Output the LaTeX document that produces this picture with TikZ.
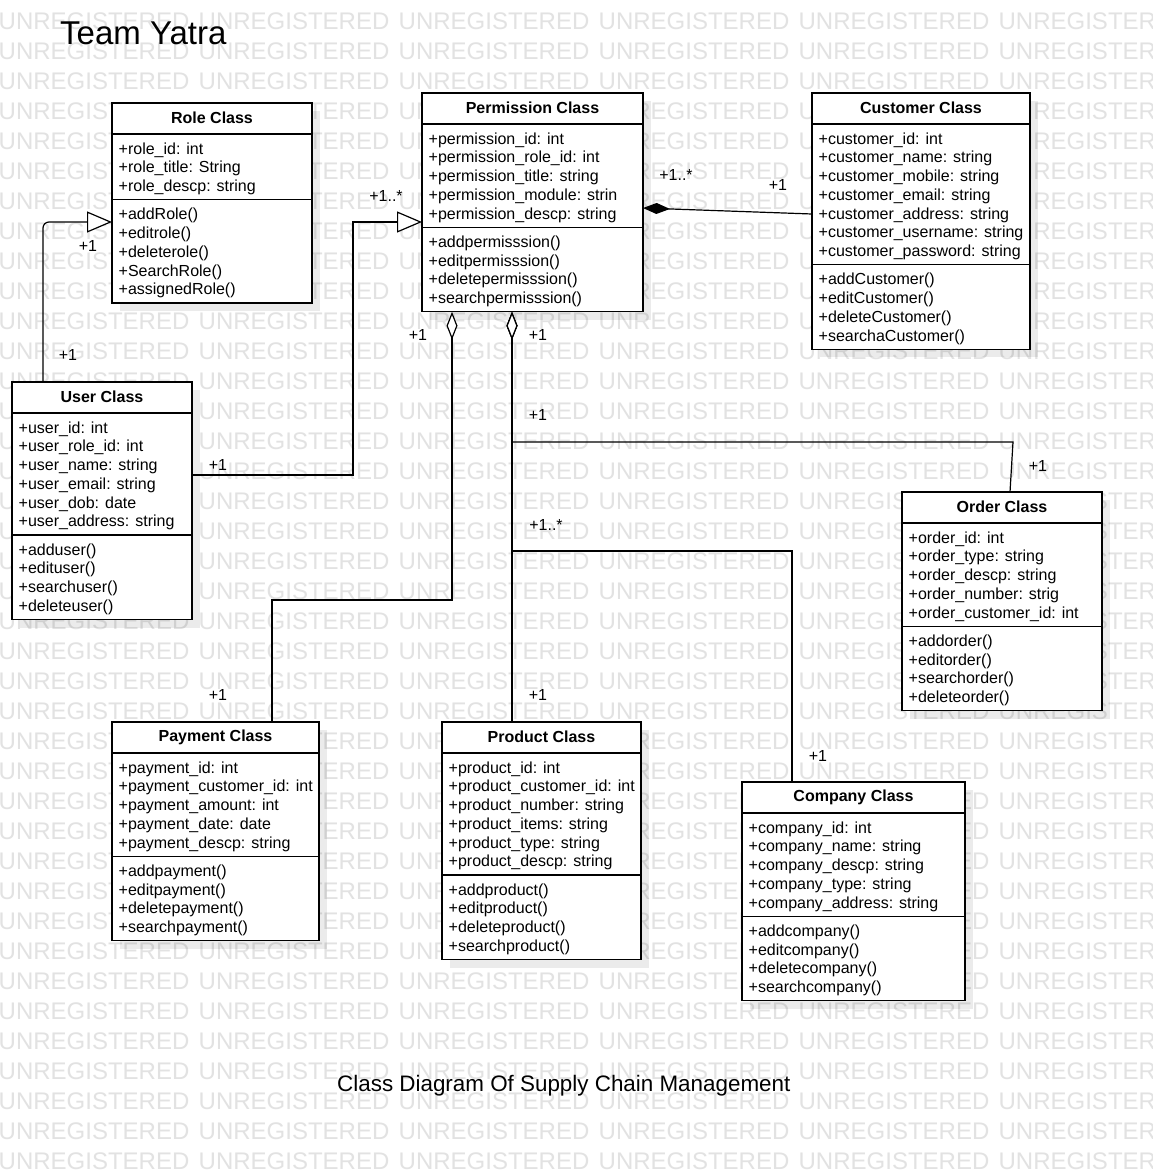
\documentclass[tikz,border=0pt]{standalone}
\usepackage{fontspec}
\setmainfont{Liberation Sans}
\usetikzlibrary{arrows.meta}
\definecolor{wmgray}{RGB}{226,226,226}
\definecolor{ink}{RGB}{0,0,0}
\newcommand\rw{\rule[-3.65pt]{0pt}{18.75pt}}
\newcommand\wmw{\makebox[200pt][l]{UNREGISTERED}}
\tikzset{
  classbox/.style={draw=ink, fill=white, line width=1.3pt, anchor=north west, inner sep=0pt, outer sep=0pt},
  shadowc/.style={fill=black, fill opacity=0.08},
  classtitle/.style={inner sep=0pt, font=\fontsize{16}{19}\selectfont\bfseries, text=ink},
  classsec/.style={anchor=north west, inner sep=0pt, align=left, font=\fontsize{16}{18.75}\selectfont, text=ink},
  divider/.style={draw=ink, line width=1.3pt},
  conn/.style={draw=ink, line width=1.2pt},
  lbl/.style={inner sep=0pt, font=\fontsize{16}{19}\selectfont, text=ink},
  wm/.style={anchor=west, inner sep=0pt, text=wmgray, font=\fontsize{24}{24}\selectfont},
  gen/.style={-{Triangle[open, fill=white, length=25pt, width=21pt]}},
  agg/.style={{Diamond[open, fill=white, length=28pt, width=11pt]}-},
  comp/.style={{Diamond[length=27pt, width=11pt]}-}
}
\newcommand\umlbox[9]{%
  \pgfmathsetmacro\uYa{#3+31}%
  \pgfmathsetmacro\uYb{\uYa+9.5+18.75*#5}%
  \pgfmathsetmacro\uYc{\uYb+9.5+18.75*#6}%
  \pgfmathsetmacro\uW{#4-#2}%
  \pgfmathsetmacro\uH{\uYc-#3}%
  \fill[shadowc] (#2+8,#3+8) rectangle (#4+8,\uYc+8);
  \node[classbox, minimum width=\uW pt, minimum height=\uH pt] (#1) at (#2,#3) {};
  \node[classtitle] (#1-title) at ({(#2+#4)/2},#3+15) {#7};
  \draw[divider] (#2,\uYa) -- (#4,\uYa);
  \draw[divider] (#2,\uYb) -- (#4,\uYb);
  \node[classsec] (#1-attrs) at (#2+6.5,\uYa+4.75) {#8};
  \node[classsec] (#1-ops) at (#2+6.5,\uYb+4.75) {#9};
}
\begin{document}
\begin{tikzpicture}[x=1pt, y=-1pt]
\useasboundingbox (0,0) rectangle (1152,1172);
\fill[white] (0,0) rectangle (1152,1172);
\begin{scope}
  \clip (0,0) rectangle (1152,1172);
  \foreach \k in {0,...,38} {
    \node[wm] (wm\k) at (-1.5,21+30*\k) {\wmw\wmw\wmw\wmw\wmw\wmw};
  }
\end{scope}

\node[anchor=base west, inner sep=0pt, font=\fontsize{33}{40}\selectfont, text=ink] (teamtitle) at (60,45) {Team Yatra};
\node[anchor=base west, inner sep=0pt, font=\fontsize{22.4}{27}\selectfont, text=ink] (caption) at (337,1091) {Class Diagram Of Supply Chain Management};

\umlbox{role}{112}{103}{312}{3}{5}{Role Class}
  {\rw+role\_id: int\\\rw+role\_title: String\\\rw+role\_descp: string}
  {\rw+addRole()\\\rw+editrole()\\\rw+deleterole()\\\rw+SearchRole()\\\rw+assignedRole()}

\umlbox{perm}{422}{93}{643}{5}{4}{Permission Class}
  {\rw+permission\_id: int\\\rw+permission\_role\_id: int\\\rw+permission\_title: string\\\rw+permission\_module: strin\\\rw+permission\_descp: string}
  {\rw+addpermisssion()\\\rw+editpermisssion()\\\rw+deletepermisssion()\\\rw+searchpermisssion()}

\umlbox{cust}{812}{93}{1030}{7}{4}{Customer Class}
  {\rw+customer\_id: int\\\rw+customer\_name: string\\\rw+customer\_mobile: string\\\rw+customer\_email: string\\\rw+customer\_address: string\\\rw+customer\_username: string\\\rw+customer\_password: string}
  {\rw+addCustomer()\\\rw+editCustomer()\\\rw+deleteCustomer()\\\rw+searchaCustomer()}

\umlbox{user}{12}{382}{192}{6}{4}{User Class}
  {\rw+user\_id: int\\\rw+user\_role\_id: int\\\rw+user\_name: string\\\rw+user\_email: string\\\rw+user\_dob: date\\\rw+user\_address: string}
  {\rw+adduser()\\\rw+edituser()\\\rw+searchuser()\\\rw+deleteuser()}

\umlbox{order}{902}{492}{1102}{5}{4}{Order Class}
  {\rw+order\_id: int\\\rw+order\_type: string\\\rw+order\_descp: string\\\rw+order\_number: strig\\\rw+order\_customer\_id: int}
  {\rw+addorder()\\\rw+editorder()\\\rw+searchorder()\\\rw+deleteorder()}

\umlbox{pay}{112}{722}{319}{5}{4}{Payment Class}
  {\rw+payment\_id: int\\\rw+payment\_customer\_id: int\\\rw+payment\_amount: int\\\rw+payment\_date: date\\\rw+payment\_descp: string}
  {\rw+addpayment()\\\rw+editpayment()\\\rw+deletepayment()\\\rw+searchpayment()}

\umlbox{prod}{442}{722}{641}{6}{4}{Product Class}
  {\rw+product\_id: int\\\rw+product\_customer\_id: int\\\rw+product\_number: string\\\rw+product\_items: string\\\rw+product\_type: string\\\rw+product\_descp: string}
  {\rw+addproduct()\\\rw+editproduct()\\\rw+deleteproduct()\\\rw+searchproduct()}

\umlbox{comp}{742}{782}{965}{5}{4}{Company Class}
  {\rw+company\_id: int\\\rw+company\_name: string\\\rw+company\_descp: string\\\rw+company\_type: string\\\rw+company\_address: string}
  {\rw+addcompany()\\\rw+editcompany()\\\rw+deletecompany()\\\rw+searchcompany()}

% generalizations
\draw[conn, gen, rounded corners=6pt] ([xshift=31pt]user.north west) |- ([yshift=-119pt]role.north west);
\draw[conn, gen] ([yshift=-93pt]user.north east) -| (353,222) -- ([yshift=-129pt]perm.north west);
% composition
\draw[conn, comp] ([yshift=-115pt]perm.north east) -- ([yshift=-121pt]cust.north west);
% aggregations
\draw[conn, agg] ([xshift=30pt]perm.south west) -- (452,600) -| ([xshift=160pt]pay.north west);
\draw[conn, agg] ([xshift=90pt]perm.south west) -- ([xshift=70pt]prod.north west);
\draw[conn, agg] ([xshift=90pt]perm.south west) -- (512,442) -- (1013,442) -- ([xshift=108pt]order.north west);
\draw[conn, agg] ([xshift=90pt]perm.south west) -- (512,551) -| ([xshift=50pt]comp.north west);

% multiplicity labels
\node[lbl] (m1) at (88,246) {+1};
\node[lbl] (m2) at (68,355) {+1};
\node[lbl] (m3) at (386,196) {+1..*};
\node[lbl] (m4) at (218,465) {+1};
\node[lbl] (m5) at (418,335) {+1};
\node[lbl] (m6) at (538,335) {+1};
\node[lbl] (m7) at (676,175) {+1..*};
\node[lbl] (m8) at (778,185) {+1};
\node[lbl] (m9) at (538,415) {+1};
\node[lbl] (m10) at (546,525) {+1..*};
\node[lbl] (m11) at (1038,466) {+1};
\node[lbl] (m12) at (218,695) {+1};
\node[lbl] (m13) at (538,695) {+1};
\node[lbl] (m14) at (818,756) {+1};
\end{tikzpicture}
\end{document}
